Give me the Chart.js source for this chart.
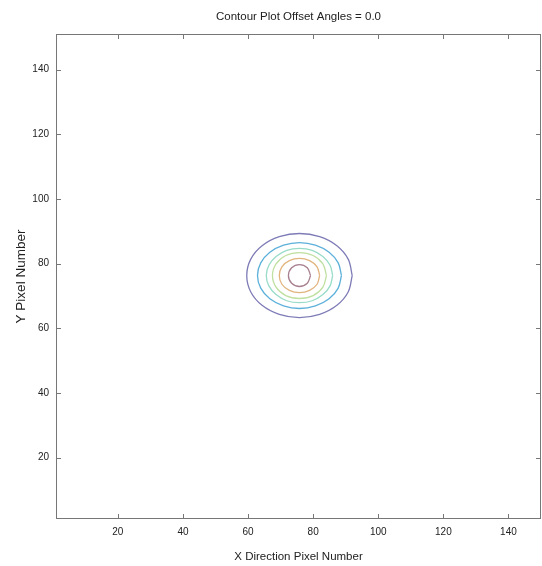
<!DOCTYPE html>
<html>
<head>
<meta charset="utf-8">
<script src="https://cdn.jsdelivr.net/npm/chart.js@4/dist/chart.umd.min.js"></script>
<style>
  body { margin: 0; background: #fff; }
  #contour { display: block; }
</style>
</head>
<body>
<canvas id="contour" width="542" height="566"></canvas>
<script>
// contour rings, outer to inner (x / y pixel numbers)
const level1X = [92.0, 90.8, 87.3, 82.0, 75.8, 69.6, 64.3, 60.8, 59.6, 60.8, 64.3, 69.6, 75.8, 82.0, 87.3, 90.8, 92.0];
const level1Y = [76.3, 81.3, 85.5, 88.3, 89.3, 88.3, 85.5, 81.3, 76.3, 71.3, 67.1, 64.3, 63.3, 64.3, 67.1, 71.3, 76.3];
const level2X = [88.7, 87.7, 84.9, 80.7, 75.8, 70.9, 66.7, 63.9, 62.9, 63.9, 66.7, 70.9, 75.8, 80.7, 84.9, 87.7, 88.7];
const level2Y = [76.3, 80.2, 83.5, 85.7, 86.5, 85.7, 83.5, 80.2, 76.3, 72.4, 69.1, 66.9, 66.1, 66.9, 69.1, 72.4, 76.3];
const level3X = [86.0, 85.2, 83.0, 79.7, 75.8, 71.9, 68.6, 66.4, 65.6, 66.4, 68.6, 71.9, 75.8, 79.7, 83.0, 85.2, 86.0];
const level3Y = [76.3, 79.5, 82.2, 84.1, 84.7, 84.1, 82.2, 79.5, 76.3, 73.1, 70.4, 68.5, 67.9, 68.5, 70.4, 73.1, 76.3];
const level4X = [84.1, 83.0, 80.0, 75.8, 71.6, 68.6, 67.5, 68.6, 71.6, 75.8, 80.0, 83.0, 84.1];
const level4Y = [76.3, 79.9, 82.5, 83.4, 82.5, 79.9, 76.3, 72.7, 70.1, 69.2, 70.1, 72.7, 76.3];
const level5X = [82.0, 81.2, 78.9, 75.8, 72.7, 70.4, 69.6, 70.4, 72.7, 75.8, 78.9, 81.2, 82.0];
const level5Y = [76.3, 79.0, 80.9, 81.6, 80.9, 79.0, 76.3, 73.6, 71.7, 71.0, 71.7, 73.6, 76.3];
const level6X = [79.2, 78.2, 75.8, 73.4, 72.4, 73.4, 75.8, 78.2, 79.2];
const level6Y = [76.3, 78.7, 79.7, 78.7, 76.3, 73.9, 72.9, 73.9, 76.3];

const xTicks = [20, 40, 60, 80, 100, 120, 140];
const yTicks = [20, 40, 60, 80, 100, 120, 140];

const titleText = 'Contour Plot Offset Angles = 0.0';
const xTitle = 'X Direction Pixel Number';
const yTitle = 'Y Pixel Number';

const rings = [
  [level1X, level1Y, '#7e7cb6'],
  [level2X, level2Y, '#5cb0da'],
  [level3X, level3Y, '#98dcc8'],
  [level4X, level4Y, '#c0e0a2'],
  [level5X, level5Y, '#e2b47e'],
  [level6X, level6Y, '#a88090']
];

const fontName = '"Liberation Sans", Arial, sans-serif';

// matlab style box with inward ticks, plus the title over the plot area
const matlabBox = {
  id: 'matlabBox',
  afterDatasetsDraw(chart) {
    const {ctx, chartArea: a, scales: {x, y}} = chart;
    ctx.save();
    ctx.strokeStyle = '#777';
    ctx.lineWidth = 1;
    ctx.strokeRect(a.left + 0.5, a.top + 0.5, a.right - a.left - 1, a.bottom - a.top - 1);
    ctx.beginPath();
    x.ticks.forEach(t => {
      const px = Math.round(x.getPixelForValue(t.value)) + 0.5;
      ctx.moveTo(px, a.bottom); ctx.lineTo(px, a.bottom - 5);
      ctx.moveTo(px, a.top); ctx.lineTo(px, a.top + 5);
    });
    y.ticks.forEach(t => {
      const py = Math.round(y.getPixelForValue(t.value)) + 0.5;
      ctx.moveTo(a.left, py); ctx.lineTo(a.left + 5, py);
      ctx.moveTo(a.right, py); ctx.lineTo(a.right - 5, py);
    });
    ctx.stroke();
    ctx.fillStyle = '#222';
    ctx.font = '11.5px ' + fontName;
    ctx.textAlign = 'center';
    ctx.textBaseline = 'middle';
    ctx.fillText(titleText, (a.left + a.right) / 2, 17);
    ctx.restore();
  }
};

new Chart(document.getElementById('contour'), {
  type: 'scatter',
  data: {
    datasets: rings.map(r => ({
      data: r[0].map((v, i) => ({x: v, y: r[1][i]})),
      showLine: true,
      borderColor: r[2],
      borderWidth: 1.3,
      pointRadius: 0,
      tension: 0.35,
      fill: false
    }))
  },
  options: {
    responsive: false,
    animation: false,
    layout: { padding: { top: 34, right: 1, left: 0, bottom: 0 } },
    plugins: {
      legend: { display: false },
      tooltip: { enabled: false }
    },
    scales: {
      x: {
        type: 'linear',
        min: 1, max: 150,
        afterBuildTicks: s => { s.ticks = xTicks.map(v => ({value: v})); },
        afterFit: s => { s.height = 47; },
        grid: { display: false, drawTicks: false },
        border: { display: false },
        ticks: { color: '#222', font: { family: fontName, size: 10 }, padding: 7, maxRotation: 0 },
        title: { display: true, text: xTitle, color: '#222', font: { family: fontName, size: 11.5 }, padding: { top: 0, bottom: 2 } }
      },
      y: {
        type: 'linear',
        min: 1, max: 151,
        afterBuildTicks: s => { s.ticks = yTicks.map(v => ({value: v})); },
        afterFit: s => { s.width = 56; },
        grid: { display: false, drawTicks: false },
        border: { display: false },
        ticks: { color: '#222', font: { family: fontName, size: 10 }, padding: 7 },
        title: { display: true, text: yTitle, color: '#222', font: { family: fontName, size: 13.5 }, padding: { top: 13, bottom: 0 } }
      }
    }
  },
  plugins: [matlabBox]
});
</script>
</body>
</html>
